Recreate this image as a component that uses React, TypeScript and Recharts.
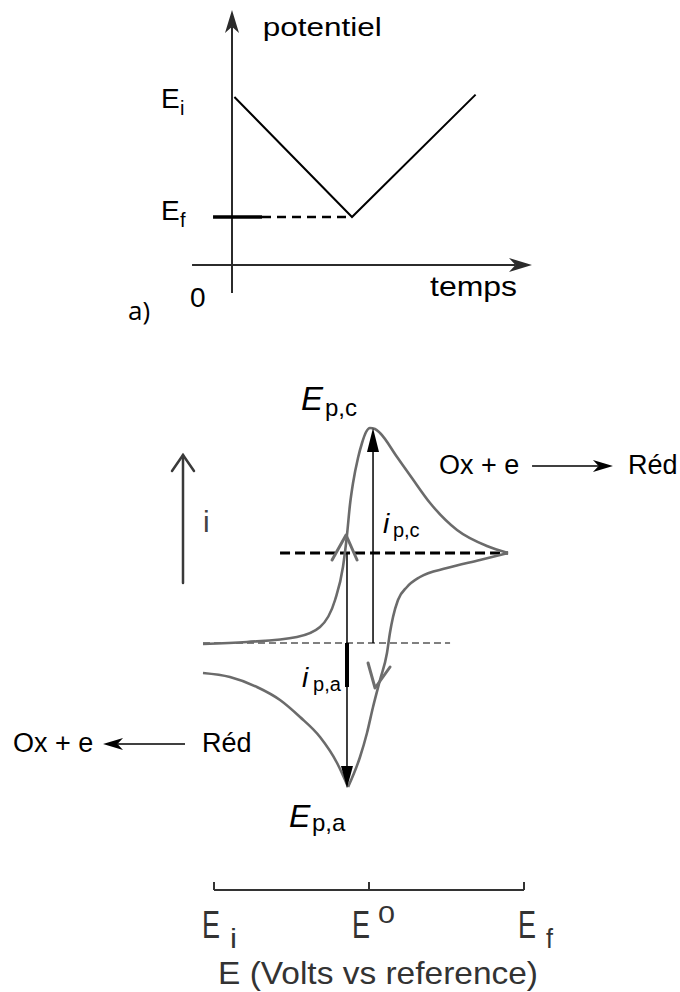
import React from "react";
import { ComposedChart, Line, XAxis, YAxis, ReferenceLine, ReferenceDot } from "recharts";

// a) potentiel imposé en fonction du temps (balayage aller puis retour)
const sweepTime = [0.02, 1, 2.03];
const sweepPotential = [7, 2, 7.1];
const E_F_LEVEL = 2;

// b) voltammogramme : branche aller (Ei -> Ef) et branche retour (Ef -> Ei)
const forwardE = [-1.071, -0.787, -0.465, -0.316, -0.219, -0.168, -0.142, -0.123, -0.103, -0.071, -0.045, -0.019, 0.006, 0.039, 0.071, 0.181, 0.277, 0.394, 0.568, 0.761, 0.897];
const forwardI = [-0.01, 0.01, 0.06, 0.16, 0.43, 0.76, 1.08, 1.38, 1.6, 1.85, 2.0, 2.11, 2.15, 2.14, 2.1, 1.86, 1.65, 1.4, 1.13, 0.97, 0.9];
const reverseE = [0.897, 0.716, 0.503, 0.329, 0.245, 0.187, 0.155, 0.135, 0.116, 0.071, 0.026, -0.013, -0.058, -0.135, -0.206, -0.316, -0.445, -0.574, -0.723, -0.897, -1.071];
const reverseI = [0.9, 0.83, 0.75, 0.66, 0.56, 0.43, 0.26, 0.1, -0.1, -0.37, -0.64, -0.9, -1.14, -1.44, -1.2, -0.94, -0.74, -0.57, -0.44, -0.34, -0.3];

const I_PC = 2.15; // courant de pic cathodique
const I_PA = -1.44; // courant de pic anodique
const I_SWITCH = 0.9; // courant au potentiel d'inversion
const E_PC = 0.026;
const E_PA = -0.142;

const axisTicks = [-1, 0, 1];
const axisTickLabels = [
  { main: "E", sub: "i" },
  { main: "E", sup: "0" },
  { main: "E", sub: "f" },
];
// décalage horizontal (px) de chaque étiquette par rapport à sa graduation
const tickLabelShift = [-12, -17, -6];

const FONT = '"Liberation Sans", Arial, Helvetica, sans-serif';

const sweep = sweepTime.map((t, k) => ({ t, E: sweepPotential[k] }));
const forward = forwardE.map((E, k) => ({ E, i: forwardI[k] }));
const reverse = reverseE.map((E, k) => ({ E, i: reverseI[k] }));
const minIdx = reverseI.indexOf(Math.min(...reverseI));
const reverseA = reverse.slice(0, minIdx + 1);
const reverseB = reverse.slice(minIdx);

type Piece = {
  s: string;
  size: number;
  dx?: number;
  dy?: number;
  italic?: boolean;
  len?: number;
  fill?: string;
  font?: string;
};

function textAt(pieces: Piece[], fill = "#000") {
  return (p: any) => (
    <g>
      {pieces.map((q, k) => (
        <text
          key={k}
          x={p.cx + (q.dx ?? 0)}
          y={p.cy + (q.dy ?? 0)}
          fontSize={q.size}
          fontStyle={q.italic ? "italic" : "normal"}
          fontFamily={q.font ?? FONT}
          fill={q.fill ?? fill}
          textLength={q.len}
          lengthAdjust={q.len ? "spacingAndGlyphs" : undefined}
        >
          {q.s}
        </text>
      ))}
    </g>
  );
}

type ArrowOpts = {
  stroke: string;
  width: number;
  head?: "fill" | "open" | "notch";
  len?: number;
  half?: number;
};

function arrowShape(o: ArrowOpts) {
  return (p: any) => {
    const { x1, y1, x2, y2 } = p;
    if (x1 == null || y2 == null) return <g />;
    const dx = x2 - x1;
    const dy = y2 - y1;
    const L = Math.hypot(dx, dy) || 1;
    const ux = dx / L;
    const uy = dy / L;
    const nx = -uy;
    const ny = ux;
    const len = o.len ?? 0;
    const half = o.half ?? 0;
    const bx = x2 - ux * len;
    const by = y2 - uy * len;
    if (o.head === "open") {
      return (
        <g fill="none" stroke={o.stroke} strokeWidth={o.width} strokeLinecap="round">
          <line x1={x1} y1={y1} x2={x2} y2={y2} />
          <polyline
            points={`${bx + nx * half},${by + ny * half} ${x2},${y2} ${bx - nx * half},${by - ny * half}`}
            strokeLinejoin="miter"
          />
        </g>
      );
    }
    const notch = o.head === "notch" ? 0.72 : 1;
    const nxp = x2 - ux * len * notch;
    const nyp = y2 - uy * len * notch;
    return (
      <g>
        <line x1={x1} y1={y1} x2={nxp} y2={nyp} stroke={o.stroke} strokeWidth={o.width} />
        <polygon
          points={`${x2},${y2} ${bx + nx * half},${by + ny * half} ${nxp},${nyp} ${bx - nx * half},${by - ny * half}`}
          fill={o.stroke}
        />
      </g>
    );
  };
}

function chevron(ax: number, ay: number, bx: number, by: number) {
  return (p: any) => (
    <polyline
      points={`${p.cx + ax},${p.cy + ay} ${p.cx},${p.cy} ${p.cx + bx},${p.cy + by}`}
      fill="none"
      stroke="#6e6e6e"
      strokeWidth={3}
      strokeLinecap="round"
      strokeLinejoin="round"
    />
  );
}

function PotentialSweep() {
  return (
    <ComposedChart width={680} height={330} margin={{ top: 0, right: 0, bottom: 0, left: 0 }}>
      <XAxis type="number" dataKey="t" domain={[-232 / 120, 448 / 120]} hide allowDataOverflow />
      <YAxis type="number" domain={[-65 / 24, 265 / 24]} hide allowDataOverflow />
      <ReferenceLine
        segment={[{ x: 0, y: -1.17 }, { x: 0, y: 10.62 }]}
        ifOverflow="visible"
        shape={arrowShape({ stroke: "#2b2b2b", width: 2, head: "notch", len: 23, half: 7 })}
      />
      <ReferenceLine
        segment={[{ x: -0.333, y: 0 }, { x: 2.5, y: 0 }]}
        ifOverflow="visible"
        shape={arrowShape({ stroke: "#2b2b2b", width: 2, head: "notch", len: 23, half: 7 })}
      />
      <ReferenceLine
        segment={[{ x: -0.158, y: E_F_LEVEL }, { x: 0.25, y: E_F_LEVEL }]}
        ifOverflow="visible"
        stroke="#000"
        strokeWidth={3.5}
      />
      <ReferenceLine
        segment={[{ x: 0.25, y: E_F_LEVEL }, { x: sweepTime[1], y: E_F_LEVEL }]}
        ifOverflow="visible"
        stroke="#000"
        strokeWidth={2.5}
        strokeDasharray="9 6"
      />
      <Line
        data={sweep}
        dataKey="E"
        type="linear"
        stroke="#000"
        strokeWidth={2}
        dot={false}
        activeDot={false}
        isAnimationActive={false}
      />
      <ReferenceDot x={0.256} y={9.56} r={1} ifOverflow="visible" shape={textAt([{ s: "potentiel", size: 26, len: 119 }])} />
      <ReferenceDot x={1.65} y={-1.29} r={1} ifOverflow="visible" shape={textAt([{ s: "temps", size: 28, len: 87 }])} />
      <ReferenceDot x={-0.35} y={-1.75} r={1} ifOverflow="visible" shape={textAt([{ s: "0", size: 28 }])} />
      <ReferenceDot
        x={-0.592}
        y={6.54}
        r={1}
        ifOverflow="visible"
        shape={textAt([{ s: "E", size: 28 }, { s: "i", size: 20, dx: 19, dy: 7 }])}
      />
      <ReferenceDot
        x={-0.592}
        y={1.875}
        r={1}
        ifOverflow="visible"
        shape={textAt([{ s: "E", size: 28 }, { s: "f", size: 20, dx: 19, dy: 7 }])}
      />
      <ReferenceDot
        x={-0.867}
        y={-2.29}
        r={1}
        ifOverflow="visible"
        shape={textAt([{ s: "a)", size: 26, font: '"Open Sans", "Noto Sans", sans-serif' }])}
      />
    </ComposedChart>
  );
}

function Voltammogram() {
  const curve = { stroke: "#6b6b6b", strokeWidth: 2.6, dot: false, activeDot: false, isAnimationActive: false } as const;
  return (
    <ComposedChart width={680} height={662} margin={{ top: 0, right: 0, bottom: 0, left: 0 }}>
      <XAxis type="number" dataKey="E" domain={[-369 / 155, 311 / 155]} hide allowDataOverflow />
      <YAxis type="number" domain={[-3.49, 3.13]} hide allowDataOverflow />

      {/* lignes de base */}
      <ReferenceLine
        segment={[{ x: forwardE[0], y: 0 }, { x: 0.523, y: 0 }]}
        ifOverflow="visible"
        stroke="#000"
        strokeWidth={1}
        strokeDasharray="7 4"
      />
      <ReferenceLine
        segment={[{ x: -0.574, y: I_SWITCH }, { x: forwardE[forwardE.length - 1], y: I_SWITCH }]}
        ifOverflow="visible"
        stroke="#000"
        strokeWidth={3}
        strokeDasharray="10 5"
      />

      <Line data={forward} dataKey="i" type="monotone" {...curve} />
      <Line data={reverseA} dataKey="i" type="monotone" {...curve} />
      <Line data={reverseB} dataKey="i" type="monotone" {...curve} />

      {/* flèches de courant de pic */}
      <ReferenceLine
        segment={[{ x: E_PC, y: 0 }, { x: E_PC, y: I_PC }]}
        ifOverflow="visible"
        shape={arrowShape({ stroke: "#000", width: 1.5, head: "fill", len: 24, half: 6 })}
      />
      <ReferenceLine
        segment={[{ x: E_PA, y: I_SWITCH }, { x: E_PA, y: I_PA - 0.01 }]}
        ifOverflow="visible"
        shape={arrowShape({ stroke: "#000", width: 1.5, head: "fill", len: 22, half: 6 })}
      />
      <ReferenceLine
        segment={[{ x: E_PA, y: 0 }, { x: E_PA, y: -0.44 }]}
        ifOverflow="visible"
        stroke="#000"
        strokeWidth={4}
      />

      {/* sens de parcours */}
      <ReferenceDot x={-0.148} y={1.08} r={1} ifOverflow="visible" shape={chevron(-14, 25, 11, 25)} />
      <ReferenceDot x={0.039} y={-0.45} r={1} ifOverflow="visible" shape={chevron(-7, -25, 15, -21)} />

      {/* axe du courant */}
      <ReferenceLine
        segment={[{ x: -1.2, y: 0.6 }, { x: -1.2, y: 1.88 }]}
        ifOverflow="visible"
        shape={arrowShape({ stroke: "#3a3a3a", width: 2.5, head: "open", len: 16, half: 11 })}
      />
      <ReferenceDot x={-1.071} y={1.11} r={1} ifOverflow="visible" shape={textAt([{ s: "i", size: 30 }], "#444")} />

      {/* réactions */}
      <ReferenceDot x={0.452} y={1.69} r={1} ifOverflow="visible" shape={textAt([{ s: "Ox + e", size: 27 }])} />
      <ReferenceLine
        segment={[{ x: 1.052, y: 1.77 }, { x: 1.574, y: 1.77 }]}
        ifOverflow="visible"
        shape={arrowShape({ stroke: "#000", width: 1.5, head: "notch", len: 20, half: 6 })}
      />
      <ReferenceDot x={1.671} y={1.69} r={1} ifOverflow="visible" shape={textAt([{ s: "Réd", size: 27 }])} />

      <ReferenceDot x={-2.297} y={-1.09} r={1} ifOverflow="visible" shape={textAt([{ s: "Ox + e", size: 27 }])} />
      <ReferenceLine
        segment={[{ x: -1.187, y: -1.01 }, { x: -1.716, y: -1.01 }]}
        ifOverflow="visible"
        shape={arrowShape({ stroke: "#000", width: 1.5, head: "notch", len: 20, half: 6 })}
      />
      <ReferenceDot x={-1.077} y={-1.09} r={1} ifOverflow="visible" shape={textAt([{ s: "Réd", size: 27 }])} />

      {/* étiquettes des pics */}
      <ReferenceDot
        x={-0.439}
        y={2.33}
        r={1}
        ifOverflow="visible"
        shape={textAt([{ s: "E", size: 33, italic: true }, { s: "p,c", size: 24, dx: 24, dy: 6 }])}
      />
      <ReferenceDot
        x={0.09}
        y={1.1}
        r={1}
        ifOverflow="visible"
        shape={textAt([{ s: "i", size: 28, italic: true }, { s: "p,c", size: 20, dx: 10, dy: 4 }])}
      />
      <ReferenceDot
        x={-0.432}
        y={-0.44}
        r={1}
        ifOverflow="visible"
        shape={textAt([{ s: "i", size: 28, italic: true }, { s: "p,a", size: 20, dx: 11, dy: 4 }])}
      />
      <ReferenceDot
        x={-0.516}
        y={-1.84}
        r={1}
        ifOverflow="visible"
        shape={textAt([{ s: "E", size: 32, italic: true }, { s: "p,a", size: 24, dx: 23, dy: 4 }])}
      />

      {/* axe des potentiels */}
      <ReferenceLine
        segment={[{ x: axisTicks[0], y: -2.47 }, { x: axisTicks[axisTicks.length - 1], y: -2.47 }]}
        ifOverflow="visible"
        stroke="#333"
        strokeWidth={2}
      />
      {axisTicks.map((v) => (
        <ReferenceLine
          key={`tk${v}`}
          segment={[{ x: v, y: -2.47 }, { x: v, y: -2.39 }]}
          ifOverflow="visible"
          stroke="#333"
          strokeWidth={2}
        />
      ))}
      {axisTicks.map((v, k) => {
        const lab = axisTickLabels[k];
        const d = tickLabelShift[k];
        const pieces: Piece[] = [{ s: lab.main, size: 38, len: 18, dx: d }];
        if (lab.sub) pieces.push({ s: lab.sub, size: 28, dx: d + 28, dy: 10, len: 7 });
        if (lab.sup) pieces.push({ s: lab.sup, size: 24, dx: d + 26, dy: -15, len: 17 });
        return <ReferenceDot key={`tl${v}`} x={v} y={-2.95} r={1} ifOverflow="visible" shape={textAt(pieces, "#333")} />;
      })}
      <ReferenceDot
        x={-0.974}
        y={-3.41}
        r={1}
        ifOverflow="visible"
        shape={textAt([{ s: "E (Volts vs reference)", size: 32, len: 320 }], "#333")}
      />
    </ComposedChart>
  );
}

export default function App() {
  return (
    <div style={{ position: "absolute", left: 0, top: 0, width: 680, height: 992, background: "#fff" }}>
      <div style={{ position: "absolute", left: 0, top: 0 }}>
        <PotentialSweep />
      </div>
      <div style={{ position: "absolute", left: 0, top: 330 }}>
        <Voltammogram />
      </div>
    </div>
  );
}
